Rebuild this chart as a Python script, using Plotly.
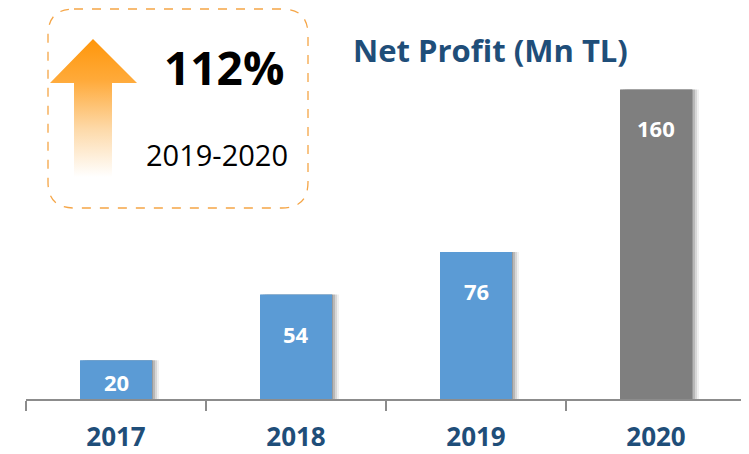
import plotly.graph_objects as go

# data
years = ["2017", "2018", "2019", "2020"]
net_profit = [20, 54, 76, 160]
growth_label = "112%"
growth_period = "2019-2020"
title_text = "Net Profit (Mn TL)"

bar_colors = ["#5B9BD5", "#5B9BD5", "#5B9BD5", "#7F7F7F"]
FONT = "Open Sans"
NAVY = "#1F4E79"

# the page body adds an 8px margin, so the figure is 8px smaller
# plot area in reference pixels: x 26..746, y 8..399
px_per_unit = 1.935
Y_MAX = 391 / px_per_unit
bar_w = 0.4

fig = go.Figure()

# soft drop shadow behind bars
for k, a in [(7, 0.06), (5, 0.10), (3, 0.14), (1, 0.16)]:
    fig.add_trace(go.Bar(
        x=years, y=net_profit, width=bar_w, offset=-bar_w / 2 + k / 180,
        marker=dict(color="rgba(0,0,0,%s)" % a, line=dict(width=0)),
        hoverinfo="skip", showlegend=False,
    ))

fig.add_trace(go.Bar(
    x=years, y=net_profit, width=bar_w, offset=-bar_w / 2,
    marker=dict(color=bar_colors, line=dict(width=0)),
    showlegend=False,
))

# value labels inside bars
for i, v in enumerate(net_profit):
    fig.add_annotation(
        x=i, y=v, xref="x", yref="y", text="<b>%d</b>" % v, showarrow=False,
        yanchor="middle", yshift=-min(39, v * px_per_unit / 2 + 2),
        font=dict(family=FONT, size=22, color="white"),
    )

# gradient arrow (reference pixel coordinates on overlay axes)
arrow_x = [93, 137, 112, 112, 74, 74, 50, 93]
arrow_y = [39, 83, 83, 177, 177, 83, 83, 39]
fig.add_trace(go.Scatter(
    x=arrow_x, y=arrow_y, xaxis="x2", yaxis="y2", mode="lines",
    line=dict(width=0), fill="toself",
    fillgradient=dict(
        type="vertical", start=177, stop=39,
        colorscale=[[0, "rgba(255,255,255,1)"], [0.35, "#FDD9A8"],
                    [0.7, "#FFAA3A"], [1, "#FF960A"]],
    ),
    hoverinfo="skip", showlegend=False,
))

# dashed rounded box
x0, x1, y0, y1, r = 48, 308, 9, 208, 26
box_path = (f"M {x0+r},{y0} H {x1-r} Q {x1},{y0} {x1},{y0+r} V {y1-r} "
            f"Q {x1},{y1} {x1-r},{y1} H {x0+r} Q {x0},{y1} {x0},{y1-r} "
            f"V {y0+r} Q {x0},{y0} {x0+r},{y0} Z")
fig.add_shape(type="path", path=box_path, xref="x2", yref="y2",
              line=dict(color="#F5A546", width=1.3, dash="dash"))

fig.add_annotation(x=224, y=67, xref="x2", yref="y2", text="<b>%s</b>" % growth_label,
                   showarrow=False, font=dict(family=FONT, size=46, color="black"))
fig.add_annotation(x=217, y=154, xref="x2", yref="y2", text=growth_period,
                   showarrow=False, font=dict(family=FONT, size=29, color="black"))
fig.add_annotation(x=490, y=50, xref="x2", yref="y2", text="<b>%s</b>" % title_text,
                   showarrow=False, font=dict(family=FONT, size=31, color=NAVY))

fig.update_layout(
    width=741, height=446,
    margin=dict(l=18, r=3, t=0, b=55),
    paper_bgcolor="white", plot_bgcolor="white",
    barmode="overlay",
    xaxis=dict(
        type="category", range=[-0.5, 3.5], showline=True, linecolor="#8C8C8C",
        linewidth=1.5, ticks="outside", tickson="boundaries", ticklen=10,
        tickcolor="#8C8C8C", tickwidth=1.5, showgrid=False, automargin=False,
        tickfont=dict(family=FONT, size=26, color=NAVY, weight="bold"),
        ticklabelstandoff=14,
    ),
    yaxis=dict(range=[0, Y_MAX], visible=False, showgrid=False, zeroline=False),
    xaxis2=dict(range=[26, 746], overlaying="x", visible=False),
    yaxis2=dict(range=[399, 8], overlaying="y", visible=False),
)

fig.write_html("out.html")
